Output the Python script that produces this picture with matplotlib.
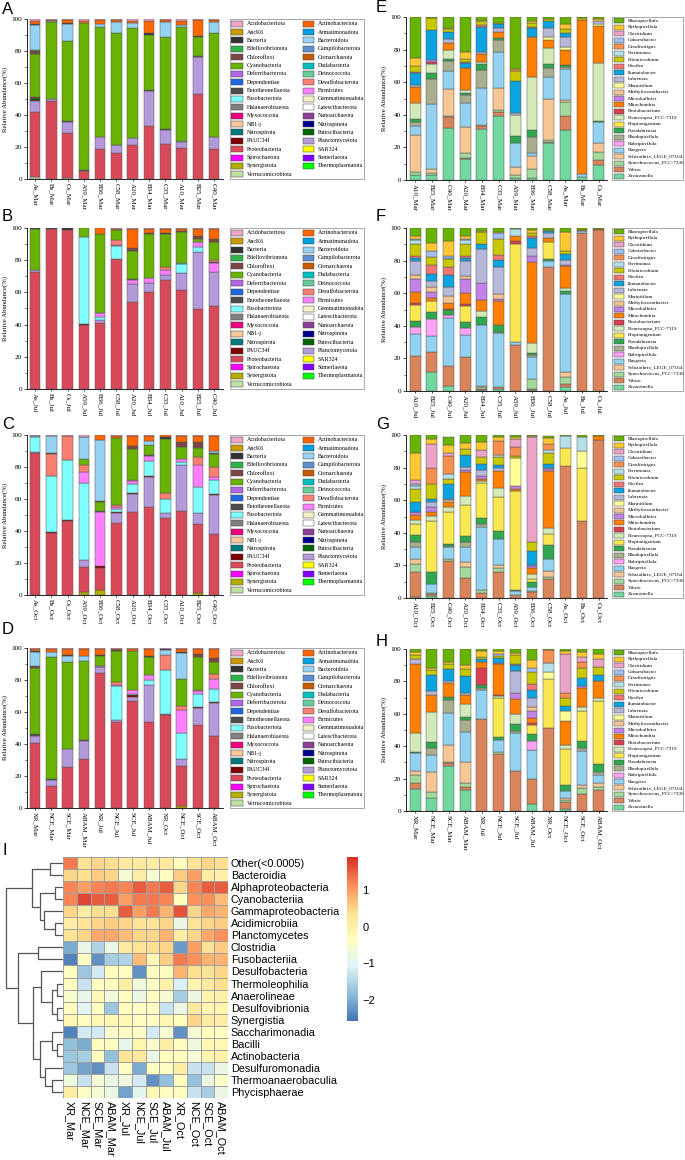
import matplotlib.pyplot as plt
import numpy as np
from matplotlib.colors import LinearSegmentedColormap
from matplotlib.patches import Rectangle

plt.rcParams['font.family'] = ['Liberation Serif', 'DejaVu Serif']

W, H = 685, 1160

# ------------------------------------------------------------
# phylum level (panels A-D), legend order = alphabetical
# ------------------------------------------------------------
phylum_codes = ['Acid', 'Acti', 'AncK', 'Arma', 'Bact', 'Bcdt', 'Bdel', 'Camp', 'Chlo', 'Cren',
                'Cyan', 'Dada', 'Defe', 'Dein', 'Depe', 'Desu', 'Ento', 'Firm', 'Fuso', 'Gemm',
                'Hala', 'Late', 'Myxo', 'Nano', 'NB1j', 'Nspn', 'Nspr', 'Pate', 'PAUC', 'Plan',
                'Prot', 'SAR', 'Spir', 'Sume', 'Syne', 'Ther', 'Verr']
phylum_names = ['Acidobacteriota', 'Actinobacteriota', 'AncK6', 'Armatimonadota', 'Bacteria',
                'Bacteroidota', 'Bdellovibrionota', 'Campilobacterota', 'Chloroflexi', 'Crenarchaeota',
                'Cyanobacteria', 'Dadabacteria', 'Deferribacterota', 'Deinococcota', 'Dependentiae',
                'Desulfobacterota', 'Entotheonellaeota', 'Firmicutes', 'Fusobacteriota', 'Gemmatimonadota',
                'Halanaerobiaeota', 'Latescibacterota', 'Myxococcota', 'Nanoarchaeota', 'NB1-j',
                'Nitrospinota', 'Nitrospirota', 'Patescibacteria', 'PAUC34f', 'Planctomycetota',
                'Proteobacteria', 'SAR324', 'Spirochaetota', 'Sumerlaeota', 'Synergistota',
                'Thermoplasmatota', 'Verrucomicrobiota']
phylum_colors = ['#EDA6C8', '#FF6600', '#CC9900', '#00A0E0', '#333333', '#96D3F2', '#2DB34A', '#5B8FCF',
                 '#7A4646', '#C85A00', '#68B200', '#00BFBF', '#B266E6', '#66CC99', '#1F66E0', '#FA8072',
                 '#4D4D4D', '#FF80FF', '#80FFFF', '#F5F0C8', '#808080', '#FFFFFF', '#F0007F', '#8C3F99',
                 '#F9C89B', '#00008C', '#007A7A', '#006600', '#7F0000', '#B59ADB', '#D84A5A', '#FFFF00',
                 '#FF00FF', '#8000FF', '#B3AD00', '#00FF00', '#BFE0A6']

sites_abc = ['As', 'Bs', 'Cs', 'A59', 'B36', 'C58', 'A20', 'B34', 'C35', 'A10', 'B25', 'C40']
sites_efg = ['A10', 'B25', 'C40', 'A20', 'B34', 'C35', 'A59', 'B36', 'C58', 'As', 'Bs', 'Cs']
groups = ['XR_Mar', 'NCE_Mar', 'SCE_Mar', 'ABAM_Mar', 'XR_Jul', 'NCE_Jul', 'SCE_Jul', 'ABAM_Jul',
          'XR_Oct', 'NCE_Oct', 'SCE_Oct', 'ABAM_Oct']

# relative abundance (%) of each bar
panel_a = [
    dict(Verr=1, Prot=41, Plan=6.5, PAUC=1, Pate=1, Myxo=1, Cyan=26.5, Chlo=2, Bdel=0.5, Bcdt=16, Bact=0.5, Acti=2, Acid=1),
    dict(Prot=48.5, Plan=1.5, Cyan=48, Bcdt=1, Acti=0.5, Acid=0.5),
    dict(Verr=0.5, Prot=28.5, Plan=6.5, Ento=1, Cyan=50, Bact=0.5, Bcdt=10.5, Acti=2, Acid=0.5),
    dict(Prot=5, Ento=0.5, Cyan=92, Acti=1.5, Acid=1),
    dict(Prot=19, Plan=7.5, Cyan=68.5, Bcdt=2, Acti=2.5, Acid=0.5),
    dict(Prot=16, Plan=5, Ento=0.5, Cyan=69.5, Bcdt=7, Acti=1.5, Acid=0.5),
    dict(Prot=21, Plan=4.5, Cyan=69, Bcdt=3, Acti=1.5, Acid=1),
    dict(Prot=33, Plan=22, Ento=0.5, Cyan=34.5, Bact=1, Acti=8, Acid=1),
    dict(Prot=22, Plan=8.5, Ento=0.5, Cyan=58, Bcdt=9, Acti=1.5, Acid=0.5),
    dict(Prot=19.5, Plan=3.5, Dein=0.5, Cyan=71.5, Bcdt=1, Acti=3, Acid=1),
    dict(Prot=53, Plan=23, Ento=1, Cyan=12, Bact=0.5, Acti=10, Acid=0.5),
    dict(Prot=19, Plan=7, Cyan=65, Bcdt=7, Acti=1.5, Acid=0.5),
]
panel_b = [
    dict(Prot=72.5, Plan=1.5, Cyan=25.5, Bact=0.5),
    dict(Prot=99.5, Bact=0.5),
    dict(Prot=99, Bact=1),
    dict(Prot=40, PAUC=0.5, Fuso=54, Cyan=5.5),
    dict(Prot=41, Plan=2, Fuso=2, Firm=2.5, Cyan=48.5, Bact=0.5, Acti=3.5),
    dict(Prot=81, Fuso=8, Firm=0.5, Desu=3, Cyan=6.5, Acti=0.5, Acid=0.5),
    dict(Prot=54, Plan=11, Ento=0.5, Firm=3, Cyan=17.5, Chlo=1.5, Acti=12, Acid=0.5),
    dict(Prot=60, Plan=6, Firm=3, Cyan=27, Chlo=1, Acti=2.5, Acid=0.5),
    dict(Prot=68, Plan=3, Firm=3, Desu=1.5, Cyan=21, Bact=0.5, Acti=2.5, Acid=0.5),
    dict(Prot=61.5, Plan=10.5, Fuso=5.5, Dein=1, Cyan=19, Chlo=0.5, Acti=1.5, Acid=0.5),
    dict(Prot=49.5, Plan=35.5, Fuso=3.5, Firm=2.5, Cyan=2, Chlo=2, Acti=4.5, Acid=0.5),
    dict(Prot=51.5, Plan=21, Ento=0.5, Firm=6, Desu=1, Cyan=11, Chlo=2, Acti=6.5, Acid=0.5),
]
panel_c = [
    dict(Prot=88.5, Plan=1, Fuso=9.5, Bcdt=0.5, Acid=0.5),
    dict(Prot=39, PAUC=0.5, Fuso=35, Desu=13.5, Chlo=1, Bcdt=10.5, Acid=0.5),
    dict(Prot=46.5, PAUC=0.5, Fuso=37.5, Desu=15, Acid=0.5),
    dict(Syne=2, Prot=15.5, Plan=4.5, Fuso=48, Firm=7, Desu=4.5, Cyan=3.5, Bact=0.5, Bcdt=13.5, Acid=1),
    dict(Syne=3, Prot=14, PAUC=1, Firm=34, Ento=0.5, Cyan=5.5, Chlo=0.5, Bcdt=38.5, Acti=3),
    dict(Prot=45, Plan=6, PAUC=1, Fuso=2, Firm=1, Desu=1, Cyan=42, Acti=1.5, Acid=0.5),
    dict(Prot=52, Plan=11, PAUC=0.5, Fuso=6, Firm=1.5, Desu=1, Cyan=19, Chlo=2, Acti=6.5, Acid=0.5),
    dict(Prot=55, Plan=19, PAUC=0.5, Fuso=9.5, Firm=3, Ento=0.5, Cyan=6.5, Bcdt=2, Acti=3.5, Acid=0.5),
    dict(Prot=48, Plan=3.5, Fuso=8.5, Desu=3.5, Cyan=34, Bact=1, Acti=1.5),
    dict(Prot=52.5, Plan=28.5, Fuso=2, Firm=2, Cyan=7.5, Chlo=3, Acti=4, Acid=0.5),
    dict(Syne=1.5, Prot=43, Plan=7, Fuso=16, Firm=13.5, Desu=5, Cyan=6, Chlo=3.5, Acti=4, Acid=0.5),
    dict(Prot=38, Plan=24.5, PAUC=0.5, Fuso=9, Firm=2, Desu=6, Cyan=8, Chlo=1, Bcdt=1, Acti=9.5, Acid=0.5),
]
panel_d = [
    dict(Prot=40.5, Plan=4.5, Ento=1.5, Cyan=41, Chlo=1, Bact=0.5, Bcdt=9, Acti=1.5, Acid=0.5),
    dict(Prot=13.5, Plan=4, Ento=0.5, Cyan=76.5, Bcdt=3, Acti=2, Acid=0.5),
    dict(Prot=25.5, Plan=11.5, Cyan=54.5, Bact=0.5, Bcdt=3.5, Acti=4, Acid=0.5),
    dict(Prot=30.5, Plan=11.5, Ento=0.5, Cyan=49.5, Bcdt=3, Acti=4.5, Acid=0.5),
    dict(Prot=84.5, Plan=3.5, Firm=1, Cyan=6, Bact=0.5, Acti=4, Acid=0.5),
    dict(Prot=54, Plan=1, Fuso=21, Firm=1, Desu=1.5, Cyan=19.5, Bact=0.5, Acti=1, Acid=0.5),
    dict(Prot=67, Plan=2.5, PAUC=1, Fuso=1, Firm=2, Cyan=24.5, Acti=1.5, Acid=0.5),
    dict(Prot=54, Plan=23, Fuso=3, Firm=3, Cyan=11.5, Bact=0.5, Acti=4.5, Acid=0.5),
    dict(Prot=58, Plan=0.5, PAUC=0.5, Fuso=27, Desu=9.5, Bact=0.5, Bcdt=3.5, Acid=0.5),
    dict(Syne=1.5, Prot=25, Plan=4, Fuso=16.5, Firm=14, Desu=2.5, Cyan=17, Bact=0.5, Bcdt=16.5, Acti=2, Acid=0.5),
    dict(Prot=52, Plan=10.5, PAUC=0.5, Fuso=8, Firm=2, Desu=0.5, Cyan=21, Chlo=1.5, Acti=3.5, Acid=0.5),
    dict(Prot=45, Plan=20.5, PAUC=0.5, Fuso=8.5, Firm=6, Desu=3.5, Cyan=7.5, Chlo=2.5, Acti=5.5, Acid=0.5),
]

# ------------------------------------------------------------
# genus level (panels E-H)
# ------------------------------------------------------------
genus_codes = ['Blas', 'Byth', 'Clos', 'Coha', 'Dfri', 'Ferr', 'Filo', 'Hoef', 'Ilum', 'Labr',
               'Mari', 'Meth', 'Micr', 'Mito', 'Phot', 'Pleu', 'Prop', 'Pseu', 'Rhod', 'Rubr',
               'Rueg', 'Schi', 'Syn', 'Vibr', 'Zava']
genus_names = ['Blastopirellula', 'Bythopirellula', 'Clostridium', 'Cohaesibacter', 'Desulfofrigus',
               'Ferrimonas', 'Filomicrobium', 'Hoeflea', 'Ilumatobacter', 'Labrenzia', 'Marinifilum',
               'Methyloceanibacter', 'Microbulbifer', 'Mitochondria', 'Photobacterium',
               'Pleurocapsa_PCC-7319', 'Propionigenium', 'Pseudahrensia', 'Rhodopirellula',
               'Rubripirellula', 'Ruegeria', 'Schizothrix_LEGE_07164', 'Synechococcus_PCC-7336',
               'Vibrio', 'Zavarzinella']
genus_colors = ['#68B200', '#FFC832', '#EBA3C8', '#A3BDF0', '#F7904F', '#B4E1E8', '#C8C800', '#F07575',
                '#0BA3E0', '#B7B7D9', '#FFFF96', '#F2C394', '#C383E6', '#FF7F00', '#D9404F', '#D3EAB8',
                '#F9E84F', '#2FA84F', '#A9AF8E', '#FFA3F7', '#93D2F0', '#F7C695', '#A3D99C', '#D9845B',
                '#72D8A0']

panel_e = [
    dict(Zava=3, Syn=2, Schi=22.5, Rueg=5.5, Rhod=2.5, Pseu=2, Pleu=9.5, Mito=10, Labr=1, Ilum=7.5, Filo=3.5, Hoef=1, Byth=5, Blas=25),
    dict(Zava=3, Syn=1.5, Schi=2, Rueg=40, Rhod=15.5, Pseu=3.5, Pleu=5.5, Phot=1.5, Micr=1, Ilum=18.5, Filo=7.5, Blas=0.5),
    dict(Zava=32, Vibr=6.5, Syn=1, Schi=16.5, Rueg=11, Rhod=6, Pseu=1, Pleu=6, Mito=4, Labr=2.5, Ilum=4.5, Filo=1.5, Byth=1, Blas=6.5),
    dict(Zava=13, Vibr=0.5, Syn=3, Schi=16, Rueg=14.5, Rhod=5, Pseu=1.5, Pleu=1.5, Mito=14, Hoef=1, Ilum=2.5, Filo=1.5, Byth=4.5, Blas=21.5),
    dict(Zava=31.5, Vibr=1.5, Schi=0.5, Rueg=23, Rhod=11, Pseu=3.5, Pleu=1.5, Mito=5, Hoef=1, Labr=1, Ilum=15.5, Filo=2.5, Byth=0.5, Blas=2.5),
    dict(Zava=39, Vibr=3, Syn=1, Schi=13.5, Rueg=22, Rhod=7.5, Pseu=1, Mito=4, Labr=2, Ilum=2.5, Filo=1, Blas=3.5),
    dict(Zava=1, Syn=2, Schi=5, Rueg=15, Pseu=4, Pleu=13, Labr=1, Ilum=20, Filo=6, Dfri=1, Blas=32),
    dict(Zava=1.5, Syn=5, Schi=8, Rueg=2, Rhod=10, Pseu=4, Pleu=32.5, Mito=24.5, Hoef=1, Ilum=5.5, Filo=2.5, Byth=1, Blas=2.5),
    dict(Zava=22.5, Vibr=1, Syn=1, Schi=25, Rueg=13.5, Rhod=5.5, Pseu=2.5, Pleu=10, Mito=5, Mari=2, Labr=5.5, Ilum=4, Filo=1.5, Blas=1),
    dict(Zava=30.5, Vibr=8.5, Syn=9, Schi=1, Rueg=19, Rhod=1.5, Pseu=1, Mito=9.5, Mari=1.5, Labr=6, Ilum=2.5, Filo=2.5, Byth=3, Blas=4.5),
    dict(Zava=2, Rueg=1.5, Mito=94.5, Filo=1.5, Blas=0.5),
    dict(Zava=9.5, Vibr=2.5, Syn=5, Schi=5.5, Rueg=13, Pseu=1, Pleu=35, Mito=23, Labr=1.5, Mari=1.5, Byth=1.5, Blas=1),
]
panel_f = [
    dict(Vibr=21.5, Rueg=13.5, Rubr=4, Pseu=4, Prop=9.5, Phot=1.5, Mito=6.5, Micr=8.5, Meth=2, Labr=9, Ilum=1.5, Hoef=1.5, Filo=7, Ferr=2.5, Coha=1, Byth=1.5, Blas=5),
    dict(Zava=11.5, Vibr=12.5, Rueg=9.5, Rubr=10.5, Pseu=4.5, Prop=6.5, Mito=2, Micr=4, Meth=3, Labr=3.5, Ilum=4.5, Hoef=5, Filo=5, Coha=4, Byth=4.5, Blas=9.5),
    dict(Zava=3, Vibr=12.5, Rueg=29, Rubr=2, Pseu=3, Phot=1, Mito=3.5, Meth=4.5, Labr=5, Ilum=7.5, Hoef=5, Filo=5, Coha=1.5, Ferr=0.5, Byth=9, Blas=8),
    dict(Vibr=21, Rueg=13.5, Rubr=4, Pseu=4, Prop=9.5, Phot=1.5, Mito=6.5, Micr=8.5, Meth=2, Labr=9.5, Ilum=1.5, Hoef=1.5, Filo=7, Ferr=2.5, Coha=1, Byth=1.5, Blas=5),
    dict(Zava=0.5, Vibr=1, Syn=1, Schi=0.5, Rueg=37.5, Pseu=5, Pleu=3.5, Mito=7, Micr=10.5, Labr=20.5, Ilum=3, Filo=7.5, Byth=0.5, Blas=2),
    dict(Zava=1, Vibr=1.5, Rueg=33, Rhod=0.5, Pseu=4.5, Mito=14.5, Micr=1.5, Meth=3, Labr=16.5, Ilum=4.5, Hoef=3, Filo=10, Coha=3.5, Byth=0.5, Blas=2.5),
    dict(Vibr=28.5, Rueg=1.5, Prop=60, Phot=2, Mito=3, Ferr=4.5, Blas=0.5),
    dict(Zava=0.5, Vibr=1, Syn=6, Rueg=13.5, Rhod=1, Pseu=1.5, Pleu=6, Mito=49.5, Micr=4, Labr=4.5, Ilum=6.5, Hoef=1, Filo=2, Byth=1.5, Blas=1.5),
    dict(Vibr=76, Rueg=4, Pseu=1, Prop=10.5, Mito=2.5, Labr=3, Ilum=1, Filo=1, Blas=1),
    dict(Zava=2.5, Vibr=1.5, Syn=4.5, Schi=3, Rueg=48, Pseu=2, Pleu=1.5, Mito=13.5, Micr=1, Labr=3, Ilum=3.5, Filo=2, Byth=11.5, Blas=2.5),
    dict(Vibr=97, Rueg=1, Mito=1, Blas=1),
    dict(Vibr=98.5, Mito=1, Blas=0.5),
]
panel_g = [
    dict(Zava=0.5, Vibr=15.5, Syn=5, Schi=3, Rueg=7, Rhod=3.5, Pseu=4, Prop=7, Pleu=2.5, Mito=3, Micr=1.5, Labr=0.5, Ilum=6, Filo=8, Ferr=1.5, Coha=1.5, Clos=2.5, Byth=16.5, Blas=11),
    dict(Zava=1, Vibr=1.5, Syn=0.5, Rueg=5.5, Pseu=7.5, Prop=31.5, Pleu=3, Mito=2.5, Micr=3, Labr=3, Ilum=2, Filo=9, Dfri=10, Clos=14.5, Byth=3, Blas=2.5),
    dict(Vibr=22.5, Syn=1.5, Rueg=7, Rhod=1, Pseu=1, Prop=19.5, Pleu=3.5, Mito=3, Meth=1, Labr=1, Ilum=9, Filo=3, Ferr=3, Dfri=11, Clos=2, Byth=5, Blas=5),
    dict(Vibr=12.5, Syn=6.5, Schi=3, Rueg=9, Rhod=3.5, Pseu=3.5, Prop=19, Pleu=5.5, Mito=14.5, Micr=1.5, Labr=2, Ilum=7, Filo=4, Byth=3.5, Blas=5),
    dict(Vibr=3, Syn=2, Rueg=38.5, Rhod=2, Pseu=3.5, Prop=21.5, Pleu=1, Mito=1.5, Micr=2, Labr=3.5, Ilum=3.5, Filo=4.5, Clos=4, Byth=5.5, Blas=4),
    dict(Vibr=16, Syn=2.5, Schi=1.5, Rueg=16, Pseu=5, Prop=21, Pleu=5.5, Mito=10.5, Labr=1.5, Ilum=2, Filo=5, Ferr=1.5, Dfri=8.5, Byth=2.5, Blas=1),
    dict(Vibr=2, Rueg=2, Pseu=1, Prop=60.5, Mito=1.5, Micr=1.5, Mari=17.5, Filo=1, Dfri=5.5, Clos=5, Byth=1.5, Blas=1),
    dict(Vibr=3.5, Syn=1, Rueg=2, Pseu=3.5, Prop=1.5, Pleu=3.5, Mito=3.5, Micr=1, Labr=1, Ilum=8.5, Filo=5.5, Clos=64.5, Byth=0.5, Blas=0.5),
    dict(Vibr=11.5, Syn=1.5, Schi=3.5, Rueg=7.5, Pseu=8.5, Prop=6.5, Pleu=4, Mito=35, Micr=1, Labr=1, Ilum=2.5, Filo=6.5, Ferr=1.5, Dfri=4, Byth=3.5, Blas=1.5),
    dict(Vibr=81, Prop=11, Ferr=7.5, Blas=0.5),
    dict(Vibr=47, Prop=33, Mari=10, Ferr=9, Blas=1),
    dict(Vibr=97, Mito=2.5, Blas=0.5),
]
panel_h = [
    dict(Zava=13.5, Vibr=4, Syn=4.5, Schi=2.5, Rueg=11, Pseu=1, Pleu=11.5, Mito=43, Labr=3, Filo=2, Byth=2, Blas=2),
    dict(Zava=8, Syn=3.5, Schi=12.5, Rueg=10.5, Rhod=4.5, Pseu=3.5, Pleu=18.5, Mito=10.5, Labr=2.5, Ilum=10, Filo=3, Byth=1, Blas=12),
    dict(Zava=28, Vibr=1.5, Syn=1, Schi=10, Rueg=20, Rhod=8, Pseu=2, Mito=8.5, Labr=1, Ilum=7.5, Filo=3, Byth=1.5, Blas=8),
    dict(Zava=13, Vibr=2, Syn=2, Schi=13, Rueg=19, Rhod=7, Pseu=2, Pleu=8, Mito=5.5, Labr=1.5, Ilum=10.5, Filo=4, Byth=2.5, Blas=10),
    dict(Vibr=57, Rueg=18, Rhod=1, Pseu=2, Phot=10, Mito=4, Ilum=2, Filo=1, Byth=4, Blas=1),
    dict(Vibr=35, Syn=1.5, Rueg=7.5, Pseu=1.5, Prop=24, Pleu=1.5, Phot=0.5, Mito=19, Micr=1, Ilum=3, Filo=1, Coha=1.5, Byth=1.5, Blas=2),
    dict(Vibr=25, Rueg=23, Rhod=1.5, Pseu=4.5, Pleu=6, Mito=9, Micr=4, Labr=13.5, Ilum=3.5, Hoef=1, Filo=5, Byth=1.5, Blas=2.5),
    dict(Zava=4.5, Vibr=15.5, Rueg=17.5, Rubr=5.5, Pseu=4.5, Prop=5.5, Phot=1.5, Mito=3, Micr=4.5, Meth=2.5, Labr=5.5, Ilum=5, Hoef=3.5, Filo=7, Coha=3, Byth=4.5, Blas=7),
    dict(Vibr=51.5, Prop=30, Mari=4, Ferr=6, Dfri=8, Blas=0.5),
    dict(Zava=1, Vibr=4.5, Syn=1.5, Schi=1, Rueg=4.5, Pseu=3.5, Prop=22.5, Pleu=2, Mito=15, Mari=6.5, Ilum=3, Filo=4.5, Dfri=3.5, Clos=24, Byth=2, Blas=1),
    dict(Vibr=10.5, Syn=3.5, Schi=2, Rueg=21, Rhod=2, Pseu=4, Prop=19, Pleu=2, Mito=12, Micr=1, Ilum=5, Filo=6, Dfri=4, Clos=3, Byth=3, Blas=2),
    dict(Vibr=13, Syn=2, Schi=2, Rueg=5.5, Rhod=1.5, Pseu=5, Prop=39, Pleu=2, Mito=10, Ilum=4, Filo=5, Clos=5, Byth=3, Blas=3),
]

# ------------------------------------------------------------
# class level heatmap (panel I), z-scores per row
# ------------------------------------------------------------
classes = ['Other(<0.0005)', 'Bacteroidia', 'Alphaproteobacteria', 'Cyanobacteriia',
           'Gammaproteobacteria', 'Acidimicrobiia', 'Planctomycetes', 'Clostridia', 'Fusobacteriia',
           'Desulfobacteria', 'Thermoleophilia', 'Anaerolineae', 'Desulfovibrionia', 'Synergistia',
           'Saccharimonadia', 'Bacilli', 'Actinobacteria', 'Desulfuromonadia',
           'Thermoanaerobaculia', 'Phycisphaerae']
heat_values = np.array([
    [1.3, 0.3, 0.5, 0.4, 0.2, 0.2, 0.1, 0.2, -0.3, 0.3, 0.5, 0.4],
    [0.5, 0.4, 0.6, 0.5, -0.6, 0.1, -0.6, -0.3, 0.6, 1.0, 0.1, 0.0],
    [1.2, 1.0, 1.2, 1.3, 1.2, 1.5, 1.3, 1.5, 0.5, 1.2, 1.5, 1.5],
    [1.2, 1.7, 1.5, 1.5, 1.0, 1.3, 1.3, 1.2, -0.3, 1.1, 1.1, 0.7],
    [0.5, 0.1, 0.4, 0.4, 1.5, 1.0, 1.3, 0.8, 1.6, 0.5, 0.9, 0.8],
    [0.1, 0.3, 0.5, 0.6, 0.5, 0.3, 0.3, 0.5, -0.8, 0.3, 0.5, 0.6],
    [0.3, 0.5, 0.9, 0.9, 0.7, 0.5, 0.5, 0.8, 0.1, 0.5, 0.9, 1.1],
    [-2.0, -0.9, -1.5, -0.8, 0.2, 0.3, 0.4, 0.5, -2.2, 1.0, 0.3, 0.6],
    [-2.4, -0.4, -2.3, -1.6, -1.5, 0.7, -0.2, 0.6, 1.3, 1.1, 0.8, 0.8],
    [-0.3, -1.7, -1.2, -0.3, -0.3, -2.3, -0.3, -0.3, 0.8, 0.4, 0.3, 0.5],
    [-0.3, -1.3, -0.3, -0.3, 0.1, -0.7, -0.4, 0.0, -1.1, -0.1, 0.2, 0.4],
    [-0.5, -0.9, -0.2, -0.7, -0.3, -0.8, -0.3, -0.6, -1.6, -0.8, -0.1, 0.0],
    [-0.3, -1.0, -0.3, -1.7, -0.3, -0.4, -0.3, -1.3, -0.8, 0.2, -0.2, -0.1],
    [-0.2, -0.3, -0.2, -0.2, -0.2, -0.3, -0.3, -0.2, -0.3, 0.5, 0.1, 0.1],
    [-2.4, -1.2, -1.2, -0.5, -0.4, -0.4, -1.2, -0.6, -2.3, -0.6, -0.3, -0.3],
    [-1.8, -2.0, -0.3, -0.3, -0.9, -0.1, -0.5, 0.1, -0.3, -0.7, -0.2, -0.2],
    [-1.7, -1.6, -0.3, -1.8, 0.3, 0.2, -0.8, -0.3, -0.3, -0.6, -0.1, 0.0],
    [-1.7, -2.1, -2.3, -1.3, -0.4, -2.0, -0.3, -0.4, 0.1, -1.3, -1.3, -0.8],
    [-0.7, -1.3, -0.6, -0.8, -0.7, -1.2, -2.3, -1.8, -0.3, -1.8, -0.8, -0.4],
    [0.1, -0.4, -0.6, -0.8, -2.1, -1.0, -0.2, -0.3, -0.3, -1.3, -1.6, -0.8],
])
# row clustering: (child, child, height); new node ids start at 20
row_merges = [(0, 1, 0.23), (2, 3, 0.145), (5, 6, 0.145), (4, 22, 0.34), (21, 23, 0.41),
              (20, 24, 0.54), (7, 8, 0.44), (10, 11, 0.105), (12, 13, 0.105), (27, 28, 0.19),
              (9, 29, 0.38), (15, 16, 0.105), (14, 31, 0.19), (18, 19, 0.2), (17, 33, 0.32),
              (32, 34, 0.40), (30, 35, 0.535), (26, 36, 0.785), (25, 37, 1.0)]

# ============================================================
fig = plt.figure(figsize=(W / 100, H / 100), dpi=100)


def px_axes(l, t, w, h):
    return fig.add_axes([l / W, 1 - (t + h) / H, w / W, h / H])


def bar_panel(box, bars, labels, codes, colors, xlim):
    ax = px_axes(*box)
    cmap = dict(zip(codes, colors))
    x = np.arange(len(bars))
    bottom = np.zeros(len(bars))
    for code in reversed(codes):
        vals = np.array([b.get(code, 0) for b in bars], float)
        m = vals > 0
        if m.any():
            ax.bar(x[m], vals[m], 0.65, bottom=bottom[m], color=cmap[code],
                   edgecolor='#555555', linewidth=0.35)
        bottom += vals
    ax.set_xlim(*xlim)
    ax.set_ylim(0, 100)
    ax.set_yticks(range(0, 101, 20))
    ax.set_yticks(range(10, 100, 20), minor=True)
    ax.set_xticks(x)
    ax.set_xticklabels(labels, rotation=-90, fontsize=5, va='top', ha='center')
    ax.tick_params(axis='y', labelsize=5.2, length=2.2, width=0.5, pad=1.5)
    ax.tick_params(axis='y', which='minor', length=1.3, width=0.4)
    ax.tick_params(axis='x', length=1.5, width=0.5, pad=1.5)
    for s in ['top', 'right']:
        ax.spines[s].set_visible(False)
    for s in ['left', 'bottom']:
        ax.spines[s].set_linewidth(0.6)
    ax.set_ylabel('Relative Abundance(%)', fontsize=4.9, labelpad=2)
    return ax


def legend_box(box, names, colors, ncol, fontsize, sw, sh, colw):
    l, t, w, h = box
    ax = px_axes(l, t, w, h)
    ax.set_xlim(0, w)
    ax.set_ylim(h, 0)
    ax.set_xticks([])
    ax.set_yticks([])
    for s in ax.spines.values():
        s.set_edgecolor('#a8a8a8')
        s.set_linewidth(0.7)
    nrow = int(np.ceil(len(names) / ncol))
    row_h = (h - 1) / nrow
    for i, (name, c) in enumerate(zip(names, colors)):
        r, col = divmod(i, ncol)
        x0 = 1.5 + col * colw
        yc = 0.5 + (r + 0.5) * row_h
        ax.add_patch(Rectangle((x0, yc - sh / 2), sw, sh, facecolor=c, edgecolor='#444444', lw=0.35))
        ax.text(x0 + sw + 3.5, yc, name, fontsize=fontsize, va='center', ha='left')


def letter(x, y, s):
    fig.text(x / W, 1 - y / H, s, fontsize=12, family='Liberation Sans', va='top', ha='left')


# ---- phylum panels
left_boxes = [(27, 19, 196, 160), (27, 228, 196, 161), (27, 435, 196, 160), (27, 648, 196, 160)]
left_data = [panel_a, panel_b, panel_c, panel_d]
left_labels = [[s + '_Mar' for s in sites_abc], [s + '_Jul' for s in sites_abc],
               [s + '_Oct' for s in sites_abc], groups]
left_letters = [('A', 2, 2), ('B', 2, 209), ('C', 2, 417), ('D', 2, 622)]
for box, data, labels, (lt, lx, ly) in zip(left_boxes, left_data, left_labels, left_letters):
    bar_panel(box, data, labels, phylum_codes, phylum_colors, (-0.5, 11.55))
    legend_box((230, box[1], 134, box[3]), phylum_names, phylum_colors, 2, 4.3, 11.5, 6, 71)
    letter(lx, ly, lt)

# ---- genus panels
right_boxes = [(406, 17, 201, 163), (406, 228, 201, 163), (406, 435, 201, 163), (406, 649, 201, 162)]
right_data = [panel_e, panel_f, panel_g, panel_h]
right_labels = [[s + '_Mar' for s in sites_efg], [s + '_Jul' for s in sites_efg],
                [s + '_Oct' for s in sites_efg], groups]
right_letters = [('E', 376, 0), ('F', 376, 209), ('G', 376, 417), ('H', 376, 634)]
for box, data, labels, (lt, lx, ly) in zip(right_boxes, right_data, right_labels, right_letters):
    bar_panel(box, data, labels, genus_codes, genus_colors, (-0.55, 11.5))
    legend_box((612, box[1], 71, box[3]), genus_names, genus_colors, 1, 3.7, 10.5, 5, 71)
    letter(lx, ly, lt)

# ---- heatmap
pheat = LinearSegmentedColormap.from_list(
    'pheat', ['#4575B4', '#91BFDB', '#E0F3F8', '#FFFFBF', '#FEE090', '#FC8D59', '#D73027'], N=100)
ax_hm = px_axes(63, 857, 165, 241)
pcm = ax_hm.pcolormesh(heat_values, cmap=pheat, vmin=-2.57, vmax=1.9,
                       edgecolors='#a0a0a0', linewidth=0.7, antialiased=True)
ax_hm.set_xlim(0, heat_values.shape[1])
ax_hm.set_ylim(heat_values.shape[0], 0)
ax_hm.set_xticks(np.arange(len(groups)) + 0.5)
ax_hm.set_xticklabels(groups, rotation=-90, fontsize=7.8, family='Liberation Sans', va='top')
ax_hm.set_yticks(np.arange(len(classes)) + 0.5)
ax_hm.set_yticklabels(classes, fontsize=7.8, family='Liberation Sans')
ax_hm.yaxis.tick_right()
ax_hm.tick_params(length=0, pad=2)
for s in ax_hm.spines.values():
    s.set_visible(False)

# dendrogram of rows
ax_dg = px_axes(5, 857, 58, 241)
ypos = {i: i + 0.5 for i in range(len(classes))}
hgt = {i: 0.0 for i in range(len(classes))}
for k, (c1, c2, h) in enumerate(row_merges):
    node = len(classes) + k
    ax_dg.plot([hgt[c1], h, h, hgt[c2]], [ypos[c1], ypos[c1], ypos[c2], ypos[c2]],
               color='#555555', lw=0.9, solid_capstyle='butt')
    ypos[node] = (ypos[c1] + ypos[c2]) / 2
    hgt[node] = h
ax_dg.set_xlim(1.02, 0)
ax_dg.set_ylim(len(classes), 0)
ax_dg.axis('off')

# colour key
ax_cb = px_axes(347, 857, 11, 164)
cb = fig.colorbar(pcm, cax=ax_cb, ticks=[1, 0, -1, -2])
cb.outline.set_visible(False)
ax_cb.tick_params(length=0, labelsize=8, pad=3)
for t in ax_cb.get_yticklabels():
    t.set_family('Liberation Sans')

letter(3, 843, 'I')

fig.savefig('out.png', dpi=100)
